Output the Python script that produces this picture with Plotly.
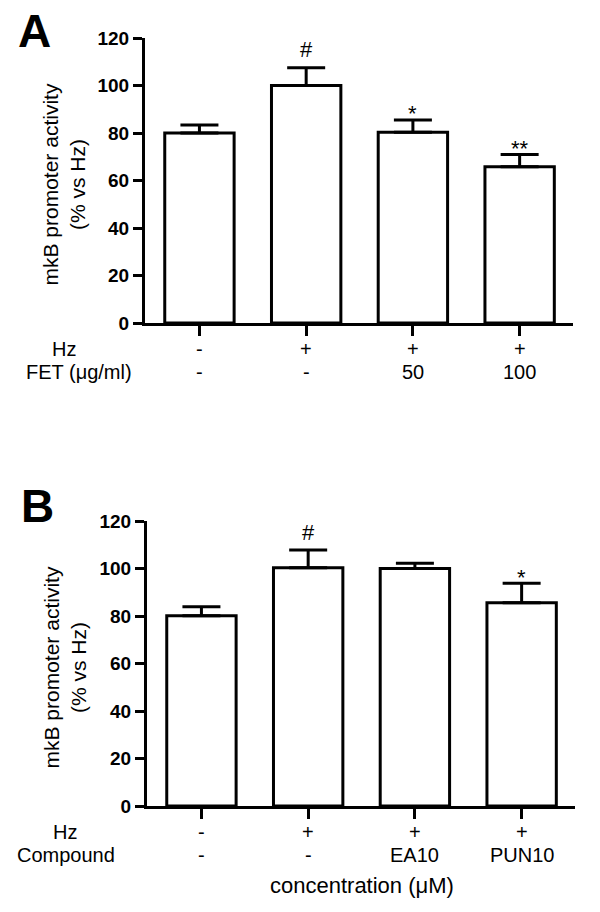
import plotly.graph_objects as go

W, H = 600, 912

# ---- data ----
categories = [0, 1, 2, 3]
a_values = [80, 100, 80.3, 65.8]
a_errors = [3.4, 7.5, 5.2, 5.2]
a_marks = ["", "#", "*", "**"]
a_row1 = ["-", "+", "+", "+"]
a_row2 = ["-", "-", "50", "100"]
a_row_names = ["Hz", "FET (\u03bcg/ml)"]

b_values = [80.1, 100.3, 100.0, 85.6]
b_errors = [3.8, 7.5, 2.2, 8.2]
b_marks = ["", "#", "", "*"]
b_row1 = ["-", "+", "+", "+"]
b_row2 = ["-", "-", "EA10", "PUN10"]
b_row_names = ["Hz", "Compound"]
b_xtitle = "concentration (\u03bcM)"

y_ticks = [0, 20, 40, 60, 80, 100, 120]
y_title = "mkB promoter activity<br>(% vs Hz)"
panel_labels = ["A", "B"]

FONT = "Arial, Liberation Sans, sans-serif"

def px_x(p):
    return p / W

def px_y(p):
    return 1 - p / H

fig = go.Figure()

def add_bars(values, errors, xa, ya):
    fig.add_trace(go.Bar(
        x=categories, y=values, xaxis=xa, yaxis=ya,
        width=0.65,
        marker=dict(color="white", line=dict(color="black", width=3)),
        error_y=dict(type="data", symmetric=False, array=errors,
                     arrayminus=[0] * len(errors), color="black",
                     thickness=3, width=19),
        showlegend=False, hoverinfo="skip",
    ))

add_bars(a_values, a_errors, "x", "y")
add_bars(b_values, b_errors, "x2", "y2")

axis_common_x = dict(range=[-0.51, 3.5], showline=True, linecolor="black", linewidth=3,
                     ticks="outside", ticklen=10, tickwidth=3, tickcolor="black",
                     tickvals=categories, showticklabels=False, showgrid=False,
                     zeroline=False, fixedrange=True, automargin=False)
axis_common_y = dict(range=[0, 120], showline=True, linecolor="black", linewidth=3,
                     ticks="outside", ticklen=9, tickwidth=3, tickcolor="black",
                     tickvals=y_ticks, showgrid=False, zeroline=False,
                     tickfont=dict(family=FONT, size=19, color="black", weight="bold"),
                     fixedrange=True, automargin=False)

fig.update_layout(
    template="none",
    width=W, height=H,
    margin=dict(l=0, r=0, t=0, b=0, pad=0),
    paper_bgcolor="white", plot_bgcolor="white",
    xaxis=dict(domain=[px_x(145), px_x(573)], anchor="y", **axis_common_x),
    yaxis=dict(domain=[px_y(323), px_y(38)], anchor="x", **axis_common_y),
    xaxis2=dict(domain=[px_x(147), px_x(575)], anchor="y2", **axis_common_x),
    yaxis2=dict(domain=[px_y(806), px_y(521)], anchor="x2", **axis_common_y),
    font=dict(family=FONT, color="black"),
)

ann = []
label_font = dict(family=FONT, size=20, color="black")

def add_panel(values, errors, marks, row1, row2, row_names, name_x, xref, yref,
              top_px, zero_px, label, label_xy):
    # significance marks
    for c, v, e, m in zip(categories, values, errors, marks):
        if not m:
            continue
        off = 7.5 if m == "#" else 2.5
        ann.append(dict(x=c, y=v + e + off, xref=xref, yref=yref, text=m,
                        showarrow=False, xanchor="center", yanchor="middle",
                        font=dict(family=FONT, size=22, color="black")))
    # row labels under x axis
    r1 = zero_px + 26
    r2 = zero_px + 49
    for c, t1, t2 in zip(categories, row1, row2):
        ann.append(dict(x=c, y=px_y(r1), xref=xref, yref="paper", text=t1,
                        showarrow=False, xanchor="center", yanchor="middle", font=label_font))
        ann.append(dict(x=c, y=px_y(r2), xref=xref, yref="paper", text=t2,
                        showarrow=False, xanchor="center", yanchor="middle", font=label_font))
    for nm, nx, ry in zip(row_names, name_x, (r1, r2)):
        ann.append(dict(x=px_x(nx), y=px_y(ry), xref="paper", yref="paper", text=nm,
                        showarrow=False, xanchor="center", yanchor="middle", font=label_font))
    # y title
    ann.append(dict(x=px_x(64), y=px_y((top_px + zero_px) / 2 + 4), xref="paper", yref="paper",
                    text=y_title, textangle=-90, showarrow=False,
                    xanchor="center", yanchor="middle", font=dict(family=FONT, size=21, color="black")))
    # panel letter
    ann.append(dict(x=px_x(label_xy[0]), y=px_y(label_xy[1]), xref="paper", yref="paper",
                    text=label, showarrow=False, xanchor="center", yanchor="middle",
                    font=dict(family=FONT, size=46, color="black", weight="bold")))

add_panel(a_values, a_errors, a_marks, a_row1, a_row2, a_row_names, (64, 79), "x", "y", 38, 323,
          panel_labels[0], (34, 31))
add_panel(b_values, b_errors, b_marks, b_row1, b_row2, b_row_names, (65, 66), "x2", "y2", 521, 806,
          panel_labels[1], (37, 506))

ann.append(dict(x=px_x(362), y=px_y(885), xref="paper", yref="paper", text=b_xtitle,
                showarrow=False, xanchor="center", yanchor="middle",
                font=dict(family=FONT, size=22, color="black")))

fig.update_layout(annotations=ann)

fig.write_html("out.html",
               config={"displayModeBar": False},
               post_script="document.body.style.margin='0';document.body.style.overflow='hidden';")
